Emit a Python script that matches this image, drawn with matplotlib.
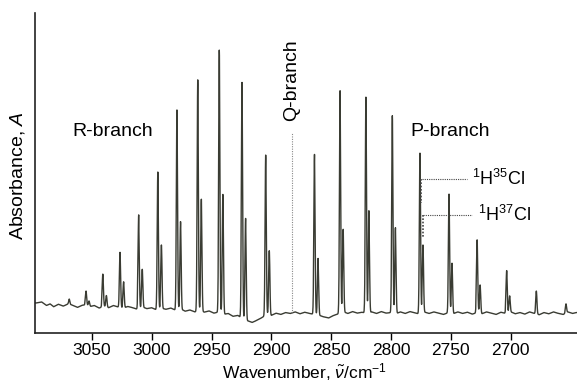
import numpy as np
import matplotlib
matplotlib.use("Agg")
import matplotlib.pyplot as plt

plt.rcParams["font.family"] = ["Liberation Sans", "DejaVu Sans"]
plt.rcParams["mathtext.fontset"] = "custom"
plt.rcParams["mathtext.rm"] = "Liberation Sans"
plt.rcParams["mathtext.it"] = "Liberation Sans:italic"

# H35Cl lines (R-branch then P-branch), wavenumber and peak absorbance
r35_pos = [3069, 3055, 3041, 3026.6, 3011, 2995, 2979, 2961.6, 2943.6, 2924.6, 2904.8]
r35_amp = [0.106, 0.131, 0.184, 0.252, 0.369, 0.503, 0.697, 0.791, 0.884, 0.783, 0.556]
p35_pos = [2864, 2842.6, 2821, 2798.9, 2775.8, 2751.5, 2728, 2703.3, 2678.5, 2653.7]
p35_amp = [0.558, 0.757, 0.737, 0.679, 0.562, 0.434, 0.291, 0.195, 0.131, 0.091]

# H37Cl companions
r37_pos = [3052.5, 3038, 3023.6, 3008, 2992, 2976, 2958.6, 2940.6, 2921.6, 2901.8]
r37_amp = [0.100, 0.117, 0.160, 0.199, 0.275, 0.348, 0.418, 0.433, 0.358, 0.257]
p37_pos = [2861, 2840, 2818.5, 2796.3, 2773.3, 2749, 2725.5, 2700.8]
p37_amp = [0.233, 0.324, 0.382, 0.329, 0.275, 0.218, 0.150, 0.116]

# baseline
base_x = [3096, 3092, 3088, 3085, 3082, 3078, 3074, 3070, 3066, 3062, 3058, 3055,
          3051, 3048, 3044, 3040, 3036, 3032, 3028, 3024, 3020, 3016, 3012, 3008,
          3004, 3000, 2996, 2992, 2988, 2984, 2980, 2976, 2972, 2968, 2964, 2960,
          2956, 2952, 2948, 2944, 2940, 2936, 2932, 2928, 2924, 2920, 2916, 2912,
          2908, 2904, 2900, 2896, 2892, 2888, 2884, 2880, 2876, 2872, 2868, 2864,
          2860, 2856, 2852, 2848, 2844, 2840, 2836, 2832, 2828, 2824, 2820, 2816,
          2812, 2808, 2804, 2800, 2796, 2792, 2788, 2784, 2780, 2776, 2772, 2768,
          2764, 2760, 2756, 2752, 2748, 2744, 2740, 2736, 2732, 2728, 2724, 2720,
          2716, 2712, 2708, 2704, 2700, 2696, 2692, 2688, 2684, 2680, 2676, 2672,
          2668, 2664, 2660, 2656, 2652, 2648, 2645]
base_y = [0.094, 0.097, 0.086, 0.091, 0.082, 0.090, 0.084, 0.091, 0.086, 0.080, 0.087, 0.088,
          0.083, 0.086, 0.078, 0.084, 0.079, 0.086, 0.081, 0.077, 0.083, 0.079, 0.074, 0.081,
          0.076, 0.079, 0.072, 0.077, 0.074, 0.078, 0.071, 0.075, 0.068, 0.072, 0.066, 0.070,
          0.065, 0.069, 0.062, 0.066, 0.058, 0.061, 0.052, 0.055, 0.044, 0.038, 0.033, 0.040,
          0.048, 0.058, 0.055, 0.062, 0.058, 0.064, 0.061, 0.066, 0.060, 0.065, 0.061, 0.058,
          0.055, 0.050, 0.047, 0.055, 0.060, 0.066, 0.061, 0.067, 0.062, 0.065, 0.060, 0.066,
          0.061, 0.067, 0.062, 0.064, 0.060, 0.066, 0.061, 0.067, 0.063, 0.059, 0.065, 0.061,
          0.066, 0.062, 0.058, 0.064, 0.060, 0.066, 0.061, 0.065, 0.059, 0.064, 0.060, 0.066,
          0.062, 0.058, 0.065, 0.061, 0.066, 0.060, 0.064, 0.059, 0.066, 0.061, 0.057, 0.064,
          0.060, 0.066, 0.061, 0.058, 0.066, 0.061, 0.064]

tick_vals = [3050, 3000, 2950, 2900, 2850, 2800, 2750, 2700]
q_origin = 2883

LINE = "#3a3c33"

fig = plt.figure(figsize=(5.77, 3.82), dpi=100)
ax = fig.add_axes([35 / 577, 1 - 333 / 382, 1 - 35 / 577, (333 - 13) / 382])

grid = np.arange(2644, 3098, 0.05)
spec = np.interp(grid, base_x[::-1], base_y[::-1])
peaks = list(zip(r35_pos + p35_pos + r37_pos + p37_pos,
                 r35_amp + p35_amp + r37_amp + p37_amp))
for pos, amp in peaks:
    b = np.interp(pos, base_x[::-1], base_y[::-1])
    spec += (amp - b) * np.exp(-0.5 * ((grid - pos) / 0.5) ** 2)

ax.plot(grid, spec, color=LINE, lw=1.0)

# Q-branch marker
ax.plot([q_origin, q_origin], [0.064, 0.625], color="#888888", lw=0.8, ls=(0, (1, 1.2)))

# isotope labels
ax.plot([2774.3, 2736.7], [0.480, 0.480], color="#444444", lw=0.8, ls=(0, (1, 1)))
ax.plot([2775.0, 2775.0], [0.480, 0.405], color="#444444", lw=1.2, ls=(0, (1, 1)))
ax.plot([2773.2, 2732.0], [0.369, 0.369], color="#444444", lw=0.8, ls=(0, (1, 1)))
ax.plot([2773.0, 2773.0], [0.369, 0.297], color="#444444", lw=1.2, ls=(0, (1, 1)))
ax.text(2732.5, 0.480, r"$^{1}$H$^{35}$Cl", fontsize=13, ha="left", va="center")
ax.text(2727.3, 0.369, r"$^{1}$H$^{37}$Cl", fontsize=13, ha="left", va="center")

ax.text(3033, 0.63, "R-branch", fontsize=14, ha="center", va="center")
ax.text(2751, 0.63, "P-branch", fontsize=14, ha="center", va="center")
ax.text(q_origin, 0.79, "Q-branch", fontsize=14, ha="center", va="center", rotation=90)

ax.set_xlim(3097.7, 2644.5)
ax.set_ylim(0, 1)
ax.set_xticks(tick_vals)
ax.set_yticks([])
ax.tick_params(axis="x", direction="out", length=5, width=1, pad=2, labelsize=12.5)
for side in ["top", "right"]:
    ax.spines[side].set_visible(False)
for side in ["left", "bottom"]:
    ax.spines[side].set_linewidth(1.2)
    ax.spines[side].set_color("#222222")

fig.text(18 / 577, 1 - 176 / 382, r"Absorbance, $A$", rotation=90,
         ha="center", va="center", fontsize=14)
fig.text(305 / 577, 1 - 372 / 382, r"Wavenumber, $\tilde{\nu}$/cm$^{-1}$",
         ha="center", va="center", fontsize=12.5)

fig.savefig("out.png", dpi=100)
